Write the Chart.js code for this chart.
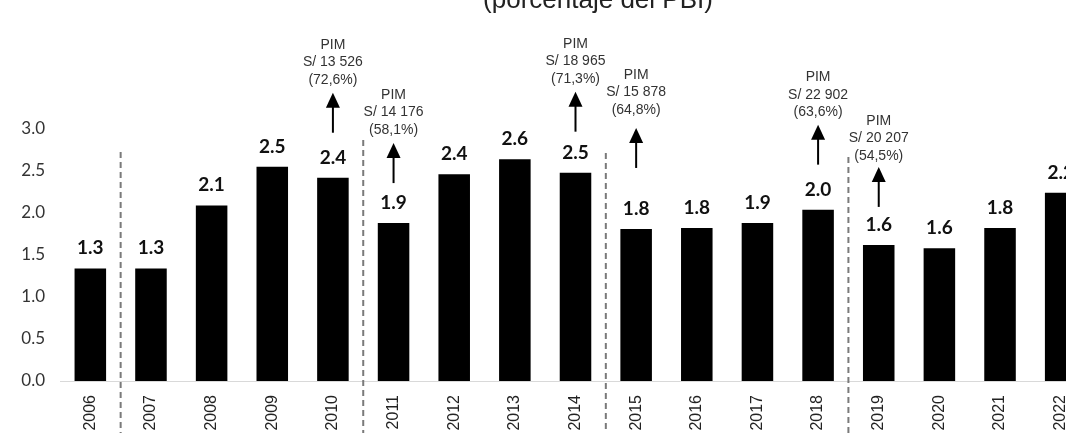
<!DOCTYPE html>
<html>
<head>
<meta charset="utf-8">
<script src="https://cdn.jsdelivr.net/npm/chart.js@4.4.1/dist/chart.umd.min.js"></script>
<style>
  html, body { margin: 0; padding: 0; background: #fff; overflow: hidden; }
  #wrap { position: relative; width: 1095px; height: 433px; }
</style>
</head>
<body>
<div id="wrap"><canvas id="c"></canvas></div>
<script>
// ---- data ----
const years = ['2006','2007','2008','2009','2010','2011','2012','2013','2014','2015','2016','2017','2018','2019','2020','2021','2022'];
const values = [1.34, 1.34, 2.09, 2.55, 2.42, 1.88, 2.46, 2.64, 2.48, 1.81, 1.82, 1.88, 2.04, 1.62, 1.58, 1.82, 2.24];
const valueLabels = ['1.3','1.3','2.1','2.5','2.4','1.9','2.4','2.6','2.5','1.8','1.8','1.9','2.0','1.6','1.6','1.8','2.2'];
const yTicks = [0, 0.5, 1.0, 1.5, 2.0, 2.5, 3.0];
const pimYears = ['2010','2011','2014','2015','2018','2019'];
const pimAmounts = ['S/ 13 526','S/ 14 176','S/ 18 965','S/ 15 878','S/ 22 902','S/ 20 207'];
const pimShares = ['(72,6%)','(58,1%)','(71,3%)','(64,8%)','(63,6%)','(54,5%)'];
const periodBreaks = ['2006','2010','2014','2018']; // separator after these years
const titleText = '(porcentaje del PBI)';

// ---- styling (not data) ----
const arrowGap = [45, 40, 41, 61, 45, 38];    // px between bar top and arrow base
const arrowTextGap = [13, 13, 13, 18, 12, 11];
const breakTop = [152, 140, 153, 157];

const overlay = {
  id: 'overlay',
  afterDatasetsDraw(chart) {
    const ctx = chart.ctx;
    const x = chart.scales.x, y = chart.scales.y;
    ctx.save();
    // title (cropped)
    ctx.fillStyle = '#222';
    ctx.font = '26px "Liberation Sans", Arial, sans-serif';
    ctx.textAlign = 'center';
    ctx.textBaseline = 'alphabetic';
    ctx.fillText(titleText, 598, 8);

    // value labels
    ctx.font = 'bold 19px Lato, "Liberation Sans", sans-serif';
    ctx.fillStyle = '#111';
    years.forEach((yr, i) => {
      const px = x.getPixelForValue(i);
      const top = y.getPixelForValue(values[i]);
      ctx.fillText(valueLabels[i], px, top - 14);
    });

    // separators
    ctx.strokeStyle = '#7a7a7a';
    ctx.lineWidth = 2;
    ctx.setLineDash([6, 4]);
    periodBreaks.forEach((yr, k) => {
      const i = years.indexOf(yr);
      const sx = (x.getPixelForValue(i) + x.getPixelForValue(i + 1)) / 2;
      ctx.beginPath();
      ctx.moveTo(sx, breakTop[k]);
      ctx.lineTo(sx, chart.height);
      ctx.stroke();
    });
    ctx.setLineDash([]);

    // PIM annotations
    pimYears.forEach((yr, k) => {
      const i = years.indexOf(yr);
      const px = x.getPixelForValue(i);
      const top = y.getPixelForValue(values[i]);
      const aBottom = top - arrowGap[k];
      const aTop = aBottom - 40;
      ctx.strokeStyle = '#000';
      ctx.fillStyle = '#000';
      ctx.lineWidth = 2;
      ctx.beginPath();
      ctx.moveTo(px, aBottom);
      ctx.lineTo(px, aTop + 12);
      ctx.stroke();
      ctx.beginPath();
      ctx.moveTo(px, aTop);
      ctx.lineTo(px - 7, aTop + 15);
      ctx.lineTo(px + 7, aTop + 15);
      ctx.closePath();
      ctx.fill();
      ctx.fillStyle = '#333';
      ctx.font = '14px "Liberation Sans", Arial, sans-serif';
      ctx.textBaseline = 'middle';
      const base = aTop - arrowTextGap[k];
      ctx.fillText(pimShares[k], px, base);
      ctx.fillText(pimAmounts[k], px, base - 17.5);
      ctx.fillText('PIM', px, base - 35);
      ctx.textBaseline = 'alphabetic';
    });
    ctx.restore();
  }
};

new Chart(document.getElementById('c'), {
  type: 'bar',
  data: {
    labels: years,
    datasets: [{
      data: values,
      backgroundColor: '#000',
      borderWidth: 0,
      barPercentage: 0.52,
      categoryPercentage: 1.0
    }]
  },
  options: {
    responsive: true,
    maintainAspectRatio: false,
    animation: false,
    layout: { padding: { top: 129, right: 4, left: 0, bottom: 0 } },
    plugins: { legend: { display: false }, tooltip: { enabled: false }, title: { display: false } },
    scales: {
      x: {
        grid: { display: false, drawTicks: false },
        border: { display: true, color: '#d9d9d9', width: 1 },
        ticks: {
          minRotation: 90, maxRotation: 90, autoSkip: false,
          padding: 14,
          color: '#222',
          font: { family: '"Liberation Sans", Arial, sans-serif', size: 16 }
        },
        afterFit(s) { s.height = 52; }
      },
      y: {
        min: 0, max: 3.0,
        grid: { display: false, drawTicks: false },
        border: { display: false },
        afterBuildTicks(s) { s.ticks = yTicks.map(v => ({ value: v })); },
        ticks: {
          padding: 15,
          color: '#333',
          font: { family: 'Lato, "Liberation Sans", sans-serif', size: 17 },
          callback: v => Number(v).toFixed(1)
        },
        afterFit(s) { s.width = 60; }
      }
    }
  },
  plugins: [overlay]
});
</script>
</body>
</html>
